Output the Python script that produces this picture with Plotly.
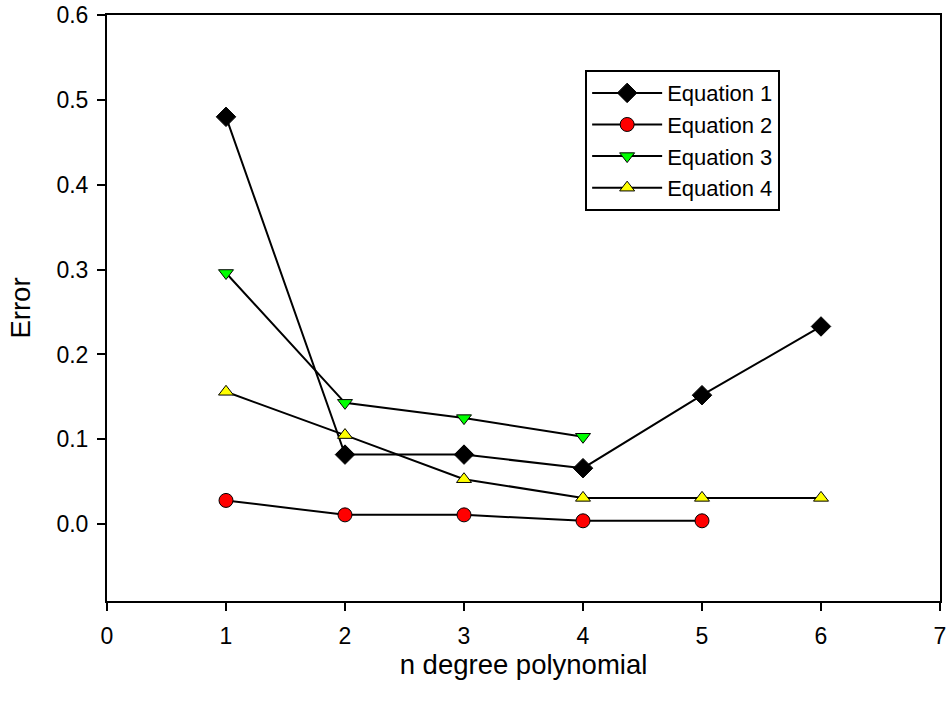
import plotly.graph_objects as go

# Polynomial degree on the x axis
degree_eq1 = [1, 2, 3, 4, 5, 6]
degree_eq2 = [1, 2, 3, 4, 5]
degree_eq3 = [1, 2, 3, 4]
degree_eq4 = [1, 2, 3, 4, 5, 6]

# Error per equation
error_eq1 = [0.480, 0.082, 0.082, 0.066, 0.152, 0.233]
error_eq2 = [0.028, 0.011, 0.011, 0.004, 0.004]
error_eq3 = [0.296, 0.143, 0.125, 0.103]
error_eq4 = [0.156, 0.105, 0.053, 0.031, 0.031, 0.031]

names = ["Equation 1", "Equation 2", "Equation 3", "Equation 4"]
xs = [degree_eq1, degree_eq2, degree_eq3, degree_eq4]
ys = [error_eq1, error_eq2, error_eq3, error_eq4]
symbols = ["diamond", "circle", "triangle-down", "triangle-up"]
fills = ["#000000", "#ff0000", "#00ff00", "#ffff00"]
sizes = [15, 14, 13, 13]

font_family = "Liberation Sans, Arial, sans-serif"

fig = go.Figure()
for name, x, y, sym, fc, sz in zip(names, xs, ys, symbols, fills, sizes):
    fig.add_trace(go.Scatter(
        x=x, y=y, name=name, mode="lines+markers",
        line=dict(color="black", width=2),
        marker=dict(symbol=sym, size=sz, color=fc,
                    line=dict(color="black", width=1)),
    ))

axis_common = dict(
    showline=True, linecolor="black", linewidth=2, mirror=True,
    ticks="outside", ticklen=8, tickwidth=2, tickcolor="black",
    showgrid=False, zeroline=False, automargin=False,
    tickfont=dict(family=font_family, size=23, color="black"),
)

fig.update_layout(
    width=951, height=706,
    margin=dict(l=107, r=11, t=15, b=105),
    paper_bgcolor="white", plot_bgcolor="white",
    font=dict(family=font_family, color="black"),
    xaxis=dict(range=[0, 7], dtick=1, ticklabelstandoff=5,
               title=dict(text="n degree polynomial",
                          font=dict(family=font_family, size=27.5), standoff=5),
               **axis_common),
    yaxis=dict(range=[-0.0905, 0.6], tickvals=[0, 0.1, 0.2, 0.3, 0.4, 0.5, 0.6],
               tickformat=".1f", ticklabelstandoff=4,
               title=dict(text="Error",
                          font=dict(family=font_family, size=27.5), standoff=18),
               **axis_common),
    legend=dict(x=0.574, y=0.906, xanchor="left", yanchor="top",
                bordercolor="black", borderwidth=2, bgcolor="white",
                font=dict(family=font_family, size=22),
                tracegroupgap=0, itemwidth=70),
    showlegend=True,
)

fig.write_html("out.html")
